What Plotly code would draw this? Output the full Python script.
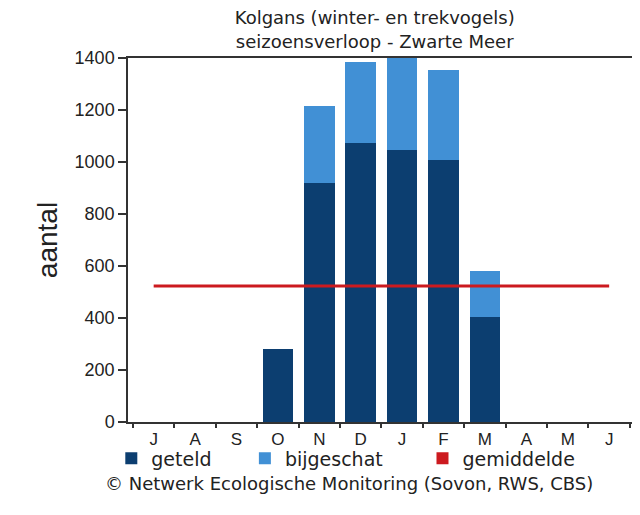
import plotly.graph_objects as go

months = ["J", "A", "S", "O", "N", "D", "J", "F", "M", "A", "M", "J"]
geteld = [0, 0, 0, 281, 919, 1073, 1046, 1008, 404, 0, 0, 0]
bijgeschat = [0, 0, 0, 0, 296, 312, 354, 346, 177, 0, 0, 0]
gemiddelde = 523
y_ticks = [0, 200, 400, 600, 800, 1000, 1200, 1400]

pos = list(range(len(months)))
dark = "#0c3e70"
light = "#4190d5"
red = "#cc1a1f"
axis_col = "#333"
leg_font = dict(family="DejaVu Sans, Verdana, sans-serif", size=19, color="#222")

fig = go.Figure()
fig.add_trace(go.Bar(x=pos, y=geteld, name="geteld", legend="legend",
                     marker=dict(color=dark, line=dict(width=0))))
fig.add_trace(go.Bar(x=pos, y=bijgeschat, name="bijgeschat", legend="legend2",
                     marker=dict(color=light, line=dict(width=0))))
fig.add_trace(go.Bar(x=pos, y=[None] * len(pos), name="gemiddelde", legend="legend3",
                     marker=dict(color=red, line=dict(width=0))))
fig.add_trace(go.Scatter(x=[pos[0], pos[-1]], y=[gemiddelde, gemiddelde], mode="lines",
                         line=dict(color=red, width=3), showlegend=False, hoverinfo="skip"))

leg_common = dict(orientation="h", y=-0.1, yanchor="middle", xanchor="left",
                  font=leg_font, itemwidth=30, bgcolor="rgba(0,0,0,0)")

fig.update_layout(
    width=640, height=515,
    margin=dict(l=120, r=12, t=50, b=101),
    paper_bgcolor="white", plot_bgcolor="white",
    barmode="stack", bargap=0.26,
    font=dict(family="Liberation Sans, Arial, sans-serif", size=18, color="#222"),
    title=dict(text="Kolgans (winter- en trekvogels)<br>seizoensverloop - Zwarte Meer",
               x=0.573, xanchor="center", y=0.968, yanchor="top",
               font=dict(family="DejaVu Sans, Verdana, sans-serif", size=18, color="#222")),
    xaxis=dict(range=[-0.62, 11.6], tickvals=pos, ticktext=months,
               ticks="outside", ticklen=1, tickcolor="rgba(0,0,0,0)",
               showline=True, linecolor=axis_col, linewidth=1.5, mirror=True,
               showgrid=False, zeroline=False,
               minor=dict(tickvals=[p - 0.5 for p in pos] + [pos[-1] + 0.5], ticks="outside",
                          ticklen=4, tickcolor=axis_col, tickwidth=1.5, showgrid=False),
               tickfont=dict(size=17)),
    yaxis=dict(range=[0, 1400], tickvals=y_ticks, ticks="outside", ticklen=8,
               tickcolor=axis_col, tickwidth=1.5,
               showline=True, linecolor=axis_col, linewidth=1.5, mirror=True,
               showgrid=False, zeroline=False,
               title=dict(text="aantal", font=dict(size=28), standoff=9),
               tickfont=dict(size=18)),
    legend=dict(x=-0.033, **leg_common),
    legend2=dict(x=0.231, **leg_common),
    legend3=dict(x=0.582, **leg_common),
    annotations=[dict(text="© Netwerk Ecologische Monitoring (Sovon, RWS, CBS)",
                      xref="paper", yref="paper", x=0.437, y=-0.17,
                      xanchor="center", yanchor="middle", showarrow=False,
                      font=dict(family="DejaVu Sans, Verdana, sans-serif", size=18, color="#222"))],
)

fig.write_html("out.html")
